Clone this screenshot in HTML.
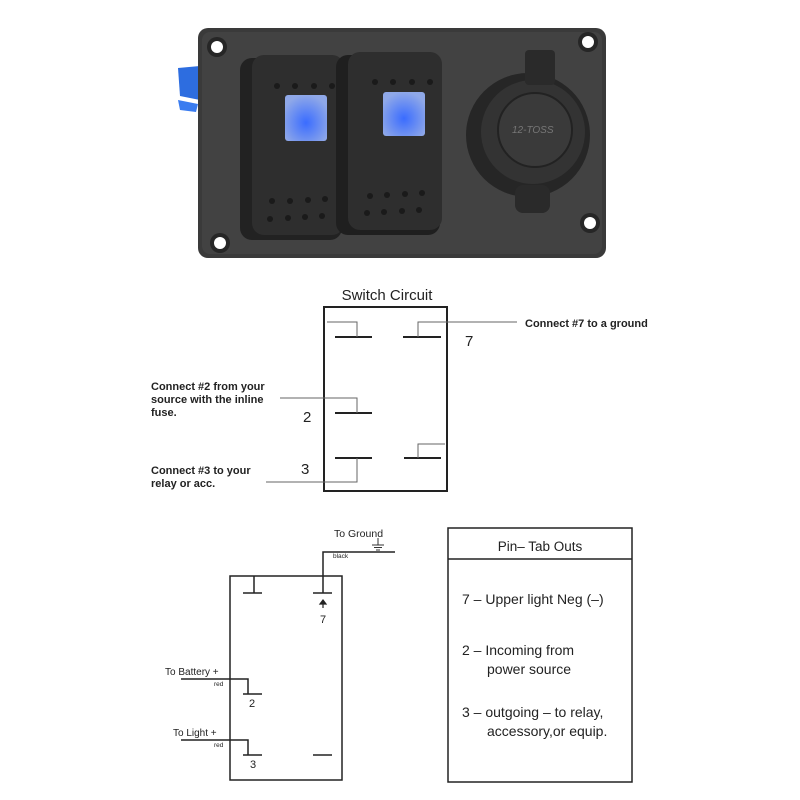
<!DOCTYPE html>
<html><head><meta charset="utf-8"><style>
html,body{margin:0;padding:0;background:#fff;width:800px;height:800px;overflow:hidden}
svg{display:block}
text{font-family:"Liberation Sans",sans-serif;fill:#222}
</style></head><body>
<svg width="800" height="800" viewBox="0 0 800 800" xmlns="http://www.w3.org/2000/svg">
<defs>
<radialGradient id="led" cx="50%" cy="60%" r="60%"><stop offset="0" stop-color="#3a6cff"/><stop offset="1" stop-color="#8fa8e8"/></radialGradient>
</defs>
<!-- photo -->
<path d="M178 68 L200 66 L200 100 L180 96 Z" fill="#2d6de0"/>
<path d="M178 100 L198 104 L196 112 L180 110 Z" fill="#3a7cf0"/>
<rect x="198" y="28" width="408" height="230" rx="10" fill="#3a3a3a"/>
<rect x="202" y="32" width="400" height="222" rx="8" fill="#424242"/>
<circle cx="217" cy="47" r="10" fill="#262626"/><circle cx="217" cy="47" r="6" fill="#fff"/>
<circle cx="588" cy="42" r="10" fill="#262626"/><circle cx="588" cy="42" r="6" fill="#fff"/>
<circle cx="220" cy="243" r="10" fill="#262626"/><circle cx="220" cy="243" r="6" fill="#fff"/>
<circle cx="590" cy="223" r="10" fill="#262626"/><circle cx="590" cy="223" r="6" fill="#fff"/>
<rect x="240" y="58" width="102" height="182" rx="12" fill="#222"/>
<rect x="252" y="55" width="92" height="180" rx="12" fill="#2e2e2e"/>
<rect x="336" y="55" width="104" height="180" rx="12" fill="#1f1f1f"/>
<rect x="348" y="52" width="94" height="178" rx="12" fill="#2e2e2e"/>
<rect x="285" y="95" width="42" height="46" rx="3" fill="url(#led)"/>
<rect x="383" y="92" width="42" height="44" rx="3" fill="url(#led)"/>
<g fill="#1a1a1a">
<circle cx="277" cy="86" r="3"/><circle cx="295" cy="86" r="3"/><circle cx="314" cy="86" r="3"/><circle cx="332" cy="86" r="3"/>
<circle cx="375" cy="82" r="3"/><circle cx="393" cy="82" r="3"/><circle cx="412" cy="82" r="3"/><circle cx="430" cy="82" r="3"/>
<circle cx="272" cy="201" r="3"/><circle cx="290" cy="201" r="3"/><circle cx="308" cy="200" r="3"/><circle cx="325" cy="199" r="3"/>
<circle cx="370" cy="196" r="3"/><circle cx="387" cy="195" r="3"/><circle cx="405" cy="194" r="3"/><circle cx="422" cy="193" r="3"/>
<circle cx="270" cy="219" r="3"/><circle cx="288" cy="218" r="3"/><circle cx="305" cy="217" r="3"/><circle cx="322" cy="216" r="3"/>
<circle cx="367" cy="213" r="3"/><circle cx="384" cy="212" r="3"/><circle cx="402" cy="211" r="3"/><circle cx="419" cy="210" r="3"/>
</g>
<circle cx="528" cy="135" r="62" fill="#262626"/>
<circle cx="533" cy="132" r="52" fill="#333"/>
<circle cx="535" cy="130" r="37" fill="#3a3a3a" stroke="#222" stroke-width="2"/>
<rect x="525" y="50" width="30" height="35" rx="4" fill="#2a2a2a"/>
<rect x="515" y="185" width="35" height="28" rx="8" fill="#2a2a2a"/>
<text x="512" y="133" font-size="10" fill="#777" style="fill:#777;font-style:italic">12-TOSS</text>

<!-- switch circuit -->
<text x="387" y="300" font-size="15" text-anchor="middle">Switch Circuit</text>
<g fill="none" stroke="#222" stroke-width="2">
<rect x="324" y="307" width="123" height="184"/>
<path d="M335 337H372M403 337H441M335 413H372M335 458H372M404 458H441"/>
</g>
<g fill="none" stroke="#666" stroke-width="1">
<path d="M327 322H357V337M517 322H418V337M280 398H357V413M266 482H357V458M445 444H418V458"/>
</g>
<text x="465" y="346" font-size="15">7</text>
<text x="303" y="422" font-size="15">2</text>
<text x="301" y="474" font-size="15">3</text>
<g font-size="11" font-weight="bold" style="font-weight:bold">
<text x="525" y="327" fill="#333">Connect #7 to a ground</text>
<text x="151" y="390">Connect #2 from your</text>
<text x="151" y="403">source with the inline</text>
<text x="151" y="416">fuse.</text>
<text x="151" y="474">Connect #3 to your</text>
<text x="151" y="487">relay or acc.</text>
</g>

<!-- bottom left -->
<text x="334" y="537" font-size="10.5">To  Ground</text>
<path d="M378 538V545M372 545H384M374 547.5H382M376 550H380" stroke="#333" stroke-width="1" fill="none"/>
<text x="333" y="558" font-size="6.5">black</text>
<g fill="none" stroke="#222" stroke-width="1.5">
<rect x="230" y="576" width="112" height="204"/>
<path d="M323 593V552H395"/>
<path d="M254 576V593M243 593H262M313 593H332M181 679H248V694M243 694H262M181 740H248V755M243 755H262M313 755H332"/>
</g>
<path d="M323 601V608M320 604L323 600L326 604Z" stroke="#222" fill="#222" stroke-width="1.2"/>
<text x="323" y="623" font-size="11" text-anchor="middle">7</text>
<text x="252" y="707" font-size="11" text-anchor="middle">2</text>
<text x="253" y="768" font-size="11" text-anchor="middle">3</text>
<text x="165" y="675" font-size="10">To  Battery +</text>
<text x="214" y="686" font-size="6.5">red</text>
<text x="173" y="736" font-size="10">To Light  +</text>
<text x="214" y="747" font-size="6.5">red</text>

<!-- pin box -->
<g fill="none" stroke="#222" stroke-width="1.5">
<rect x="448" y="528" width="184" height="254"/>
<path d="M448 559H632"/>
</g>
<text x="540" y="551" font-size="13.5" text-anchor="middle">Pin– Tab Outs</text>
<g font-size="14">
<text x="462" y="604">7 – Upper light Neg (–)</text>
<text x="462" y="655">2 – Incoming from</text>
<text x="487" y="674">power source</text>
<text x="462" y="717">3 – outgoing  – to relay,</text>
<text x="487" y="736">accessory,or equip.</text>
</g>
</svg>
</body></html>
